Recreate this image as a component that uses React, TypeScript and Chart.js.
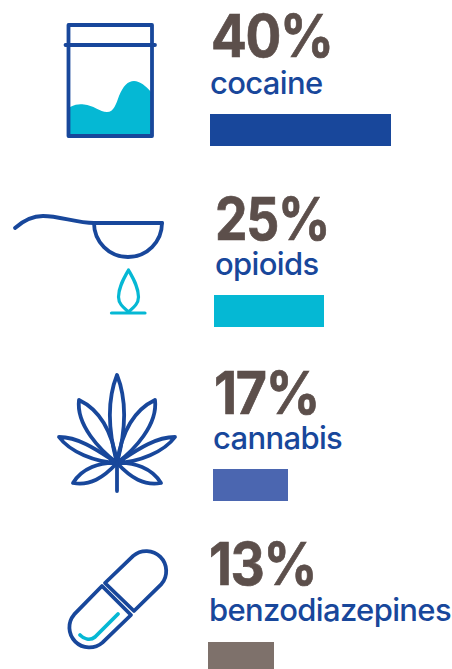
import React, { useEffect, useRef } from "react";
import { Chart, registerables } from "chart.js";

Chart.register(...registerables);

// Share of cases per substance, in percent
const categories = ["cocaine", "opioids", "cannabis", "benzodiazepines"];
const shares = [40, 25, 17, 13];
const barColors = ["#18479b", "#05b8d4", "#4b66b0", "#7e716b"];

// Placement of each row: bar box, headline and label baselines
const barBoxes = [
  { left: 210, top: 114, width: 181, height: 32 },
  { left: 214, top: 295, width: 110, height: 32 },
  { left: 213, top: 469, width: 75, height: 32 },
  { left: 208, top: 642, width: 66, height: 27 },
];
const headlineAnchors = [
  { x: 211, y: 57, condense: 0.9 },
  { x: 215, y: 240, condense: 0.875 },
  { x: 214, y: 414, condense: 0.91 },
  { x: 209, y: 585, condense: 0.9 },
];
const labelAnchors = [
  { x: 210, y: 94 },
  { x: 215, y: 275 },
  { x: 213, y: 449 },
  { x: 209, y: 621 },
];

const NAVY = "#18479b";
const CYAN = "#05b8d4";
const HEADLINE = "#5c4f4b";

function ShareBar({ index }: { index: number }) {
  const ref = useRef<HTMLCanvasElement>(null);
  const box = barBoxes[index];
  useEffect(() => {
    const chart = new Chart(ref.current!, {
      type: "bar",
      data: {
        labels: [categories[index]],
        datasets: [
          {
            data: [shares[index]],
            backgroundColor: barColors[index],
            borderWidth: 0,
            barPercentage: 1,
            categoryPercentage: 1,
          },
        ],
      },
      options: {
        indexAxis: "y",
        responsive: false,
        animation: false,
        layout: { padding: 0 },
        plugins: { legend: { display: false }, tooltip: { enabled: false } },
        scales: {
          x: { display: false, min: 0, max: shares[index] },
          y: { display: false },
        },
      },
    });
    return () => chart.destroy();
  }, [index]);
  return (
    <canvas
      ref={ref}
      width={box.width}
      height={box.height}
      style={{ position: "absolute", left: box.left, top: box.top, display: "block" }}
    />
  );
}

const leafHalves = [
  "M117 463C100 450 76 425 79 400C100 410 112 430 117 463Z",
  "M117 463C100 452 80 437 59 437C70 452 95 462 117 463Z",
  "M117 463C100 462 82 468 73 483C90 486 103 478 117 463Z",
];

function Icons() {
  const line = {
    fill: "none",
    stroke: NAVY,
    strokeWidth: 3.8,
    strokeLinecap: "round" as const,
    strokeLinejoin: "round" as const,
  };
  const accent = { ...line, stroke: CYAN };
  return (
    <g>
      {/* Bag with powder */}
      <path
        d="M70 107C76 104 80 104 84 104.5C93 105 100 112 107 112C114 112 116 104 119 96C123 86 128 81 134 81C140 81 146 86 151 92V134H70Z"
        fill={CYAN}
      />
      <rect x={68.5} y={25} width={83.5} height={111} {...line} />
      <path d="M65.5 45H155" {...line} />

      {/* Spoon and flame */}
      <path d="M15 228C24 220 33 216 43 216C60 216 76 223 94 223H162" {...line} />
      <path d="M94 223A34 34 0 0 0 162 223" {...line} />
      <path
        d="M128.500 270C124 278 118.500 287 118.500 297C118.500 304 124 308 128.500 312C133 308 138.500 304 138.500 297C138.500 287 133 278 128.500 270Z"
        {...accent}
        strokeWidth={3.2}
      />
      <path d="M111.500 313H145" {...accent} strokeWidth={3.2} />

      {/* Leaf */}
      <path d="M117 463C108 430 107 400 117 375C127 400 126 430 117 463Z" {...line} />
      {leafHalves.map((d) => (
        <React.Fragment key={d}>
          <path d={d} {...line} />
          <path d={d} {...line} transform="matrix(-1 0 0 1 234 0)" />
        </React.Fragment>
      ))}
      <path d="M117 463V491" {...line} />

      {/* Capsule */}
      <path d="M105 583L133.200 555.900A20 20 0 0 1 161.400 584.100L134 611Z" {...line} />
      <path d="M102 586L74.200 614.400A20 20 0 0 0 102.400 642.600L131 615Z" {...line} />
      <path d="M80 635C84 639 90 641 95 637L118 614" {...accent} />
    </g>
  );
}

export default function App() {
  return (
    <div
      style={{
        position: "absolute",
        left: 0,
        top: 0,
        width: 452,
        height: 669,
        overflow: "hidden",
        background: "#fff",
      }}
    >
      <svg
        width={452}
        height={669}
        style={{ position: "absolute", left: 0, top: 0, display: "block" }}
      >
        <Icons />
        {categories.map((name, i) => (
          <React.Fragment key={name}>
            <text
              transform={`translate(${headlineAnchors[i].x} ${headlineAnchors[i].y}) scale(${headlineAnchors[i].condense} 1)`}
              fill={HEADLINE}
              stroke={HEADLINE}
              strokeWidth={0.7}
              style={{ font: "700 59px Inter", letterSpacing: "-1.5px" }}
            >
              {shares[i]}%
            </text>
            <text
              x={labelAnchors[i].x}
              y={labelAnchors[i].y}
              fill={NAVY}
              style={{ font: "500 31px Inter", letterSpacing: "-0.65px" }}
            >
              {name}
            </text>
          </React.Fragment>
        ))}
      </svg>
      {categories.map((name, i) => (
        <ShareBar key={name} index={i} />
      ))}
    </div>
  );
}
